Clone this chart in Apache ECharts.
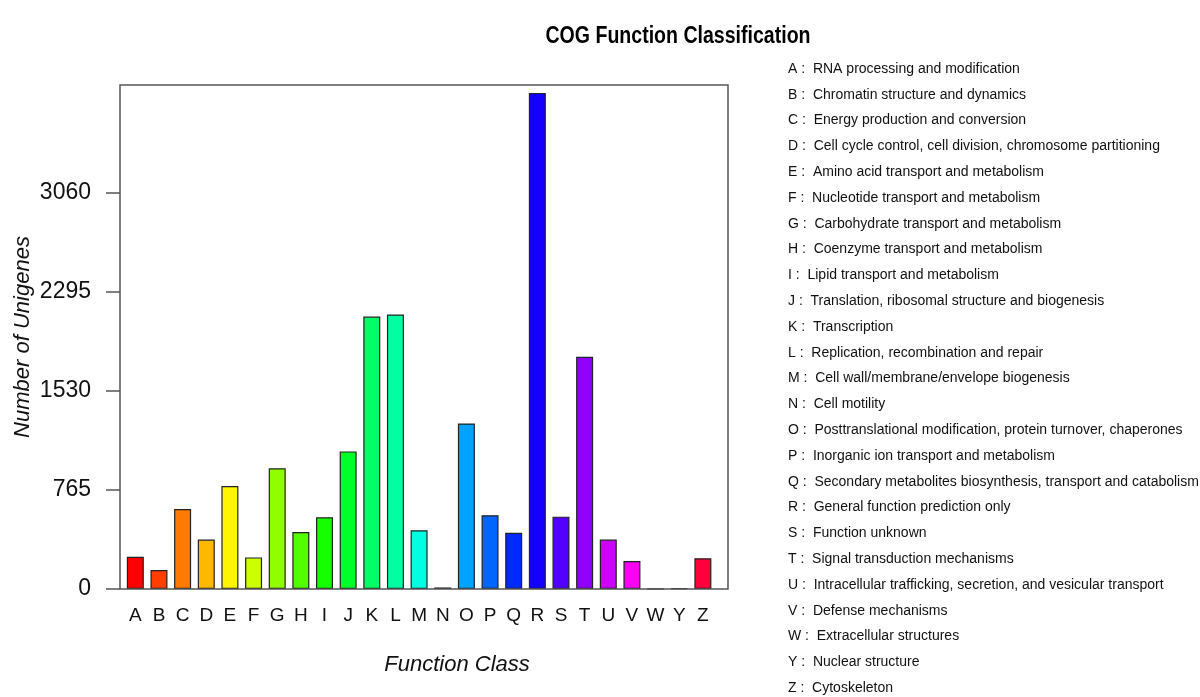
<!DOCTYPE html>
<html>
<head>
<meta charset="utf-8">
<script src="https://cdn.jsdelivr.net/npm/echarts@6/dist/echarts.min.js"></script>
<style>
  html, body { margin: 0; padding: 0; background: #fff; }
  #chart { width: 1200px; height: 697px; }
</style>
</head>
<body>
<div id="chart"></div>
<script>
const categories = ['A','B','C','D','E','F','G','H','I','J','K','L','M','N','O','P','Q','R','S','T','U','V','W','Y','Z'];
const counts = [249, 147, 618, 382, 795, 244, 933, 440, 554, 1063, 2105, 2121, 454, 12, 1279, 570, 435, 3833, 559, 1794, 382, 216, 3, 5, 238];
const yTicks = [0, 765, 1530, 2295, 3060];
const descriptions = [
  'RNA processing and modification',
  'Chromatin structure and dynamics',
  'Energy production and conversion',
  'Cell cycle control, cell division, chromosome partitioning',
  'Amino acid transport and metabolism',
  'Nucleotide transport and metabolism',
  'Carbohydrate transport and metabolism',
  'Coenzyme transport and metabolism',
  'Lipid transport and metabolism',
  'Translation, ribosomal structure and biogenesis',
  'Transcription',
  'Replication, recombination and repair',
  'Cell wall/membrane/envelope biogenesis',
  'Cell motility',
  'Posttranslational modification, protein turnover, chaperones',
  'Inorganic ion transport and metabolism',
  'Secondary metabolites biosynthesis, transport and catabolism',
  'General function prediction only',
  'Function unknown',
  'Signal transduction mechanisms',
  'Intracellular trafficking, secretion, and vesicular transport',
  'Defense mechanisms',
  'Extracellular structures',
  'Nuclear structure',
  'Cytoskeleton'
];
const barColors = ['#FF0000','#FF3D00','#FF7A00','#FFB800','#FFF500','#CCFF00','#8FFF00','#52FF00','#14FF00','#00FF29','#00FF66','#00FFA3','#00FFE0','#00E0FF','#00A3FF','#0066FF','#0029FF','#1400FF','#5200FF','#8F00FF','#CC00FF','#FF00F5','#FF00B8','#FF007A','#FF003D'];

const chart = echarts.init(document.getElementById('chart'), null, { renderer: 'canvas' });
const font = '"Liberation Sans", Arial, Helvetica, sans-serif';
const legendText = categories.map((c, i) => c + ' :  ' + descriptions[i]).join('\n');

chart.setOption({
  animation: false,
  backgroundColor: '#ffffff',
  textStyle: { fontFamily: font },
  title: [
    {
      text: legendText,
      left: 788, top: 56, padding: 0,
      textStyle: { fontFamily: font, fontSize: 14, fontWeight: 'normal', color: '#111', lineHeight: 25.8 }
    }
  ],
  grid: [
    { left: 123.5, right: 485.3, top: 85, bottom: 108 },
    { left: 120, right: 472, top: 85, bottom: 108, show: true, borderColor: '#555', borderWidth: 1.5, backgroundColor: 'transparent', z: 3 }
  ],
  xAxis: [
    {
      type: 'category', data: categories, gridIndex: 0,
      axisLine: { show: false }, axisTick: { show: false },
      axisLabel: { interval: 0, fontSize: 19, color: '#111', margin: 17 }
    },
    { type: 'value', gridIndex: 1, show: false }
  ],
  yAxis: [
    {
      type: 'value', gridIndex: 0, min: 0, max: 3894, offset: 3.5,
      axisLine: { show: false },
      axisTick: { show: true, length: 14, customValues: yTicks, lineStyle: { color: '#555', width: 1.5 } },
      axisLabel: { customValues: yTicks, fontSize: 23, color: '#111', margin: 29, formatter: v => String(v) },
      splitLine: { show: false },
      name: 'Number of Unigenes', nameLocation: 'middle', nameGap: 86,
      nameTextStyle: { fontStyle: 'italic', fontSize: 22, color: '#111' }
    },
    { type: 'value', gridIndex: 1, show: false }
  ],
  graphic: [
    {
      type: 'text', x: 678, y: 37, scaleX: 0.85,
      style: { text: 'COG Function Classification', font: 'bold 23px ' + font, fill: '#000', textAlign: 'center', textVerticalAlign: 'middle' }
    },
    {
      type: 'text', x: 457, y: 665,
      style: { text: 'Function Class', font: 'italic 22px ' + font, fill: '#111', textAlign: 'center', textVerticalAlign: 'middle' }
    }
  ],
  series: [
    {
      type: 'bar', xAxisIndex: 0, yAxisIndex: 0,
      data: counts.map((v, i) => ({ value: v, itemStyle: { color: barColors[i] } })),
      barWidth: 17,
      itemStyle: { borderColor: '#222', borderWidth: 1.2 }
    }
  ]
});
</script>
</body>
</html>
